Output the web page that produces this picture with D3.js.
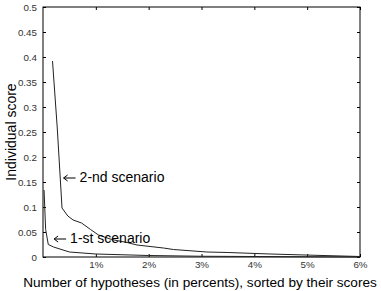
<!DOCTYPE html>
<html>
<head>
<meta charset="utf-8">
<script src="https://cdn.jsdelivr.net/npm/d3@7"></script>
<style>
    body { margin: 0; background: #fff; }
    text { font-family: "Liberation Sans", Arial, sans-serif; }
</style>
</head>
<body>
<div id="chart"></div>
<script>
// values (x in percents, y = individual score)
const x_second = [0.18, 0.27, 0.36, 0.47, 0.57, 0.73, 0.9, 1.05, 1.3, 1.59, 1.78, 2.28, 2.47, 3.1, 3.5, 4.3, 5.3, 6.0]
const y_second = [0.392, 0.258, 0.098, 0.082, 0.074, 0.068, 0.055, 0.044, 0.035, 0.029, 0.024, 0.018, 0.015, 0.01, 0.009, 0.006, 0.003, 0.001]
const x_first = [0.02, 0.05, 0.1, 0.2, 0.5, 1.0, 2.0, 3.0, 4.0, 6.0]
const y_first = [0.134, 0.055, 0.025, 0.02, 0.01, 0.006, 0.003, 0.0015, 0.001, 0.0]
const x_ticks = [1, 2, 3, 4, 5, 6]
const y_ticks = [0, 0.05, 0.1, 0.15, 0.2, 0.25, 0.3, 0.35, 0.4, 0.45, 0.5]
const annotations = [
    {label: "2-nd scenario", x: 0.39, y: 0.158},
    {label: "1-st scenario", x: 0.21, y: 0.036}
]

const margin = {top: 7, right: 21, bottom: 34, left: 43},
    width = 381 - margin.left - margin.right,
    height = 291 - margin.top - margin.bottom;

const svg = d3.select("#chart")
    .append("svg")
    .attr("width", 381)
    .attr("height", 291)
    .append("g")
    .attr("transform", "translate(" + margin.left + "," + margin.top + ")");

const x = d3.scaleLinear().domain([0, 6]).range([0, width]);
const y = d3.scaleLinear().domain([0, 0.5]).range([height, 0]);

// matlab style box with inward ticks
function style_axis(g) {
    g.select(".domain").remove();
    g.selectAll("line").attr("stroke", "#000");
    g.selectAll("text").attr("fill", "#333").style("font-size", "9.8px");
}

svg.append("g")
    .attr("transform", "translate(0," + height + ")")
    .call(d3.axisBottom(x).tickValues(x_ticks).tickSizeInner(-3).tickPadding(4)
        .tickFormat(d => d + "%"))
    .call(style_axis);
svg.append("g")
    .call(d3.axisTop(x).tickValues(x_ticks).tickSizeInner(-3).tickFormat(""))
    .call(style_axis);
svg.append("g")
    .call(d3.axisLeft(y).tickValues(y_ticks).tickSizeInner(-3).tickPadding(6)
        .tickFormat(d => d3.format("~g")(d)))
    .call(style_axis);
svg.append("g")
    .attr("transform", "translate(" + width + ",0)")
    .call(d3.axisRight(y).tickValues(y_ticks).tickSizeInner(-3).tickFormat(""))
    .call(style_axis);

svg.append("rect")
    .attr("width", width)
    .attr("height", height)
    .attr("fill", "none")
    .attr("stroke", "#000");

const line = d3.line()
    .x(d => x(d[0]))
    .y(d => y(d[1]));

svg.append("path")
    .datum(d3.zip(x_first, y_first))
    .attr("d", line)
    .attr("fill", "none")
    .attr("stroke", "#222")
    .attr("stroke-width", 1);

svg.append("path")
    .datum(d3.zip(x_second, y_second))
    .attr("d", line)
    .attr("fill", "none")
    .attr("stroke", "#222")
    .attr("stroke-width", 1);

// arrows + labels
for (const a of annotations) {
    const ax = x(a.x), ay = y(a.y);
    svg.append("path")
        .attr("d", "M" + ax + "," + ay + "h12 M" + (ax + 4) + "," + (ay - 3) +
            "L" + ax + "," + ay + "L" + (ax + 4) + "," + (ay + 3))
        .attr("fill", "none")
        .attr("stroke", "#000");
    svg.append("text")
        .attr("x", ax + 16)
        .attr("y", ay + 4)
        .style("font-size", "14px")
        .text(a.label);
}

svg.append("text")
    .attr("x", 157)
    .attr("y", height + 30)
    .attr("text-anchor", "middle")
    .style("font-size", "13.6px")
    .text("Number of hypotheses (in percents), sorted by their scores");

svg.append("text")
    .attr("transform", "translate(" + (16 - margin.left) + "," + (132 - margin.top) + ") rotate(-90)")
    .attr("text-anchor", "middle")
    .style("font-size", "14px")
    .text("Individual score");
</script>
</body>
</html>
